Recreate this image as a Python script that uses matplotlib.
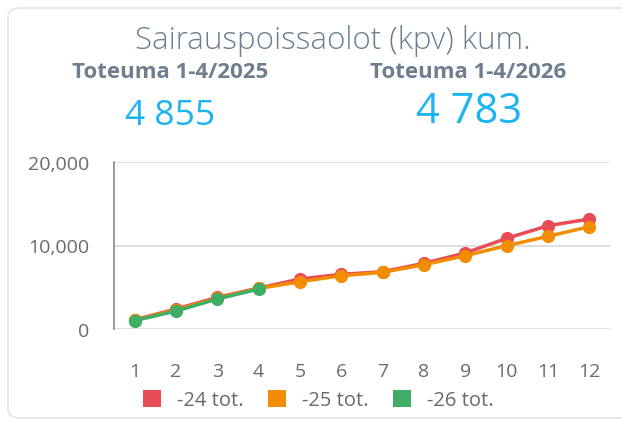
import matplotlib.pyplot as plt
from matplotlib.patches import FancyBboxPatch, Patch
from matplotlib.ticker import FuncFormatter

# kuukaudet ja kumulatiiviset sairauspoissaolot (kpv)
months = [1, 2, 3, 4, 5, 6, 7, 8, 9, 10, 11, 12]
tot_24 = [1100, 2400, 3800, 4900, 5990, 6550, 6860, 7870, 9100, 10860, 12370, 13170]
tot_25 = [1050, 2300, 3700, 4855, 5660, 6380, 6790, 7700, 8780, 9980, 11100, 12250]
tot_26 = [1000, 2150, 3600, 4783]

labels = ["-24 tot.", "-25 tot.", "-26 tot."]
colors = ["#e84c56", "#f28c00", "#40ad66"]
y_ticks = [0, 10000, 20000]

title = "Sairauspoissaolot (kpv) kum."
kpi_labels = ["Toteuma 1-4/2025", "Toteuma 1-4/2026"]
kpi_values = ["4 855", "4 783"]

plt.rcParams['font.family'] = ['Open Sans', 'DejaVu Sans']

W, H = 622, 427
fig = plt.figure(figsize=(W / 100, H / 100), dpi=100)

# kortin reunus
card = FancyBboxPatch((8 / W, 8 / H), 640 / W, 410 / H,
                      boxstyle="round,pad=0,rounding_size=0.02",
                      transform=fig.transFigure, facecolor="white",
                      edgecolor="#e4e4e4", linewidth=1.2, zorder=-5)
fig.patches.append(card)

grey = "#6d7e8e"
fig.text(333 / W, 1 - 41 / H, title, ha="center", va="center",
         fontsize=22.5, color=grey, fontweight="light")
fig.text(170 / W, 1 - 72 / H, kpi_labels[0], ha="center", va="center",
         fontsize=16, color=grey, fontweight="bold")
fig.text(468 / W, 1 - 72 / H, kpi_labels[1], ha="center", va="center",
         fontsize=16, color=grey, fontweight="bold")
fig.text(170 / W, 1 - 116 / H, kpi_values[0], ha="center", va="center",
         fontsize=25.5, color="#1cb4f0")
fig.text(469 / W, 1 - 112 / H, kpi_values[1], ha="center", va="center",
         fontsize=30, color="#1cb4f0")

ax = fig.add_axes([114 / W, 1 - 330 / H, 496 / W, 167 / H])
for vals, c in zip([tot_24, tot_25, tot_26], colors):
    ax.plot(months[:len(vals)], vals, color=c, linewidth=2.5,
            marker="o", markersize=9.5, markeredgewidth=0)

ax.set_xlim(0.5, 12.5)
ax.set_ylim(0, 20000)
ax.set_xticks(months)
ax.set_yticks(y_ticks)
ax.yaxis.set_major_formatter(FuncFormatter(lambda v, p: f"{int(v):,}"))
ax.grid(axis="y", color="#d9d9d9", linewidth=1.2)
ax.set_axisbelow(True)
for s in ["top", "right", "bottom"]:
    ax.spines[s].set_visible(False)
ax.spines["left"].set_color("#8a8a8a")
ax.spines["left"].set_linewidth(1.2)
ax.tick_params(length=0, labelsize=14, labelcolor="#6a6a6a")
ax.tick_params(axis="y", pad=18)
ax.tick_params(axis="x", pad=24)

handles = [Patch(facecolor=c, edgecolor="none") for c in colors]
fig.legend(handles, labels, loc="center", bbox_to_anchor=(318 / W, 1 - 401 / H),
           ncol=3, frameon=False, fontsize=14.5, labelcolor="#6a6a6a",
           handlelength=0.9, handleheight=0.9, handletextpad=0.8,
           columnspacing=1.2)

fig.savefig("out.png", dpi=100)
